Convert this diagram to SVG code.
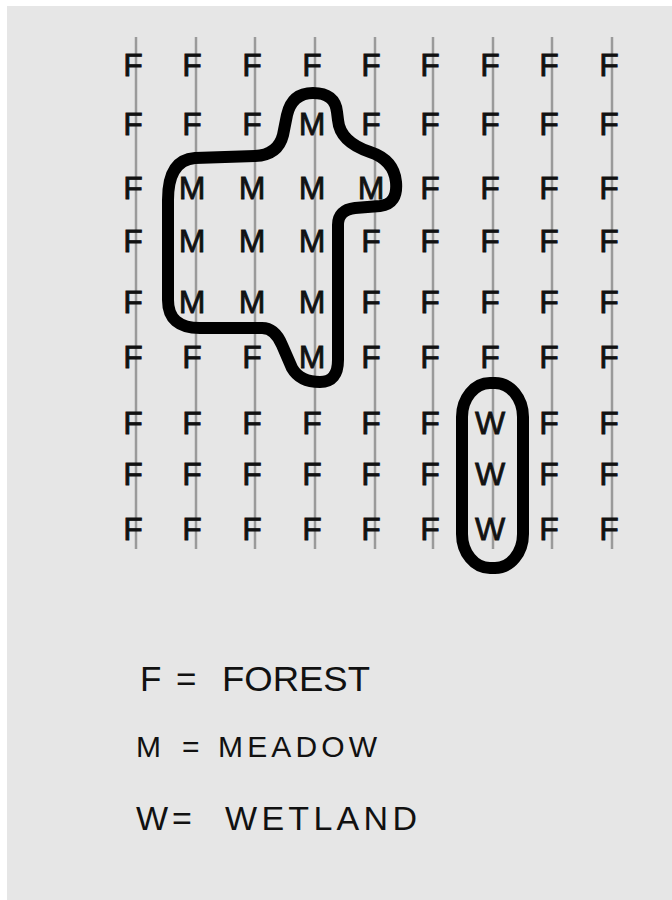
<svg xmlns="http://www.w3.org/2000/svg" width="672" height="900" viewBox="0 0 672 900">
<style>
.grid line{stroke:#9a9a9a;stroke-width:2.5}
.cell{font-family:"Liberation Sans",Arial,sans-serif;font-size:32px;fill:#111;stroke:#111;stroke-width:0.8;text-anchor:middle}
.zone{fill:none;stroke:#000;stroke-width:12;stroke-linejoin:round}
.legend{font-family:"Liberation Sans",Arial,sans-serif;fill:#111}
</style>
<rect width="672" height="900" fill="#ffffff"/>
<rect x="7" y="6" width="665" height="894" fill="#e6e6e6"/>
<g id="gridlines" class="grid">
<line x1="136" y1="37" x2="136" y2="549"/>
<line x1="196" y1="37" x2="196" y2="549"/>
<line x1="255" y1="37" x2="255" y2="549"/>
<line x1="315" y1="37" x2="315" y2="549"/>
<line x1="375" y1="37" x2="375" y2="549"/>
<line x1="433" y1="37" x2="433" y2="549"/>
<line x1="493" y1="37" x2="493" y2="549"/>
<line x1="552" y1="37" x2="552" y2="549"/>
<line x1="612" y1="37" x2="612" y2="549"/>
</g>
<g id="cells" class="cell">
<text x="133" y="76">F</text><text x="192" y="76">F</text><text x="252" y="76">F</text><text x="312" y="76">F</text><text x="371" y="76">F</text><text x="430" y="76">F</text><text x="490" y="76">F</text><text x="549" y="76">F</text><text x="609" y="76">F</text>
<text x="133" y="135">F</text><text x="192" y="135">F</text><text x="252" y="135">F</text><text x="312" y="135">M</text><text x="371" y="135">F</text><text x="430" y="135">F</text><text x="490" y="135">F</text><text x="549" y="135">F</text><text x="609" y="135">F</text>
<text x="133" y="199">F</text><text x="192" y="199">M</text><text x="252" y="199">M</text><text x="312" y="199">M</text><text x="371" y="199">M</text><text x="430" y="199">F</text><text x="490" y="199">F</text><text x="549" y="199">F</text><text x="609" y="199">F</text>
<text x="133" y="252">F</text><text x="192" y="252">M</text><text x="252" y="252">M</text><text x="312" y="252">M</text><text x="371" y="252">F</text><text x="430" y="252">F</text><text x="490" y="252">F</text><text x="549" y="252">F</text><text x="609" y="252">F</text>
<text x="133" y="313">F</text><text x="192" y="313">M</text><text x="252" y="313">M</text><text x="312" y="313">M</text><text x="371" y="313">F</text><text x="430" y="313">F</text><text x="490" y="313">F</text><text x="549" y="313">F</text><text x="609" y="313">F</text>
<text x="133" y="368">F</text><text x="192" y="368">F</text><text x="252" y="368">F</text><text x="312" y="368">M</text><text x="371" y="368">F</text><text x="430" y="368">F</text><text x="490" y="368">F</text><text x="549" y="368">F</text><text x="609" y="368">F</text>
<text x="133" y="434">F</text><text x="192" y="434">F</text><text x="252" y="434">F</text><text x="312" y="434">F</text><text x="371" y="434">F</text><text x="430" y="434">F</text><text x="490" y="434">W</text><text x="549" y="434">F</text><text x="609" y="434">F</text>
<text x="133" y="485">F</text><text x="192" y="485">F</text><text x="252" y="485">F</text><text x="312" y="485">F</text><text x="371" y="485">F</text><text x="430" y="485">F</text><text x="490" y="485">W</text><text x="549" y="485">F</text><text x="609" y="485">F</text>
<text x="133" y="540">F</text><text x="192" y="540">F</text><text x="252" y="540">F</text><text x="312" y="540">F</text><text x="371" y="540">F</text><text x="430" y="540">F</text><text x="490" y="540">W</text><text x="549" y="540">F</text><text x="609" y="540">F</text>
</g>
<g id="meadow-zone">
<path class="zone" d="M168,200 L168,300 Q168,328 200,328 L262,328 Q275,328 282,345 L292,368 Q300,382 320,382 Q338,382 338,360 L338,225 Q338,210 355,208 L380,206 Q398,204 396,182 Q394,160 370,152 Q340,142 338,120 L337,112 Q335,93 313,93 Q292,93 287,115 L283,135 Q278,155 255,156 L195,158 Q168,160 168,200 Z"/>
</g>
<g id="wetland-zone">
<rect class="zone" x="462" y="383" width="61" height="185" rx="28" ry="34"/>
</g>
<g id="legend" class="legend">
<text font-size="35" y="691"><tspan x="140">F</tspan><tspan x="176">=</tspan><tspan x="222" textLength="148" lengthAdjust="spacingAndGlyphs">FOREST</tspan></text>
<text font-size="30" y="757"><tspan x="136">M</tspan><tspan x="182">=</tspan><tspan x="218" textLength="159" lengthAdjust="spacing">MEADOW</tspan></text>
<text font-size="34" y="830"><tspan x="136">W</tspan><tspan x="172">=</tspan><tspan x="225" textLength="192" lengthAdjust="spacing">WETLAND</tspan></text>
</g>
</svg>
